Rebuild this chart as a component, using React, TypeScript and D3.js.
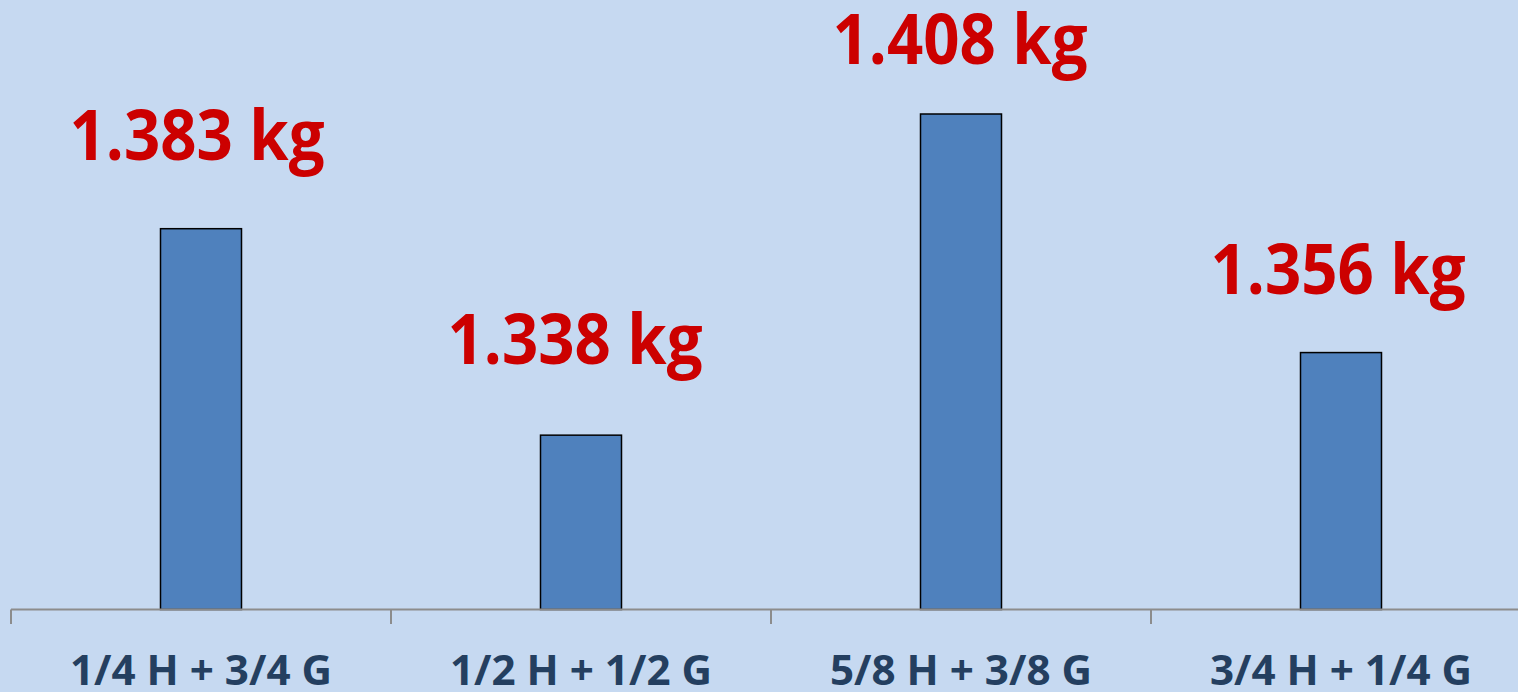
import React from "react";
import * as d3 from "d3";

const categories = ["1/4 H + 3/4 G", "1/2 H + 1/2 G", "5/8 H + 3/8 G", "3/4 H + 1/4 G"];
const values = [1.383, 1.338, 1.408, 1.356];
const valueLabels = ["1.383 kg", "1.338 kg", "1.408 kg", "1.356 kg"];
// manual label lift (px above bar top) and horizontal nudge, as in the original
const labelLift = [69, 71, 50, 59];
const labelNudge = [-4, -6, -1, -3];

const W = 1518;
const H = 692;

export default function App() {
  const x = d3.scaleBand<string>().domain(categories).range([11, 1531]).padding(0);
  const y = d3.scaleLinear().domain([1.3, 1.408]).range([609.5, 114]);
  const bw = 81;
  const baseY = y(1.3);

  return (
    <svg
      width={W}
      height={H}
      style={{ position: "absolute", left: 0, top: 0, display: "block" }}
      fontFamily="'Open Sans', 'Noto Sans', sans-serif"
    >
      <rect x={0} y={0} width={W} height={H} fill="#C6D9F1" />
      {categories.map((c, i) => {
        const cx = (x(c) as number) + x.bandwidth() / 2;
        return (
          <rect
            key={"b" + i}
            x={cx - bw / 2}
            y={y(values[i])}
            width={bw}
            height={baseY - y(values[i])}
            fill="#4F81BD"
            stroke="#000"
            strokeWidth={1.5}
          />
        );
      })}
      <line x1={11} x2={W} y1={baseY} y2={baseY} stroke="#8C8C8C" strokeWidth={2} />
      {categories.map((c, i) => (
        <line
          key={"t" + i}
          x1={x(c) as number}
          x2={x(c) as number}
          y1={baseY}
          y2={624}
          stroke="#8C8C8C"
          strokeWidth={2}
        />
      ))}
      {categories.map((c, i) => {
        const cx = (x(c) as number) + x.bandwidth() / 2;
        return (
          <text
            key={"c" + i}
            x={cx}
            y={685}
            textAnchor="middle"
            fontSize={42}
            fontWeight={700}
            fill="#243F60"
            textLength={262}
            lengthAdjust="spacingAndGlyphs"
          >
            {c}
          </text>
        );
      })}
      {categories.map((c, i) => {
        const cx = (x(c) as number) + x.bandwidth() / 2 + labelNudge[i];
        return (
          <text
            key={"v" + i}
            x={cx}
            y={y(values[i]) - labelLift[i]}
            textAnchor="middle"
            fontSize={70}
            fontWeight={700}
            fill="#CC0000"
            textLength={255}
            lengthAdjust="spacingAndGlyphs"
          >
            {valueLabels[i]}
          </text>
        );
      })}
    </svg>
  );
}
